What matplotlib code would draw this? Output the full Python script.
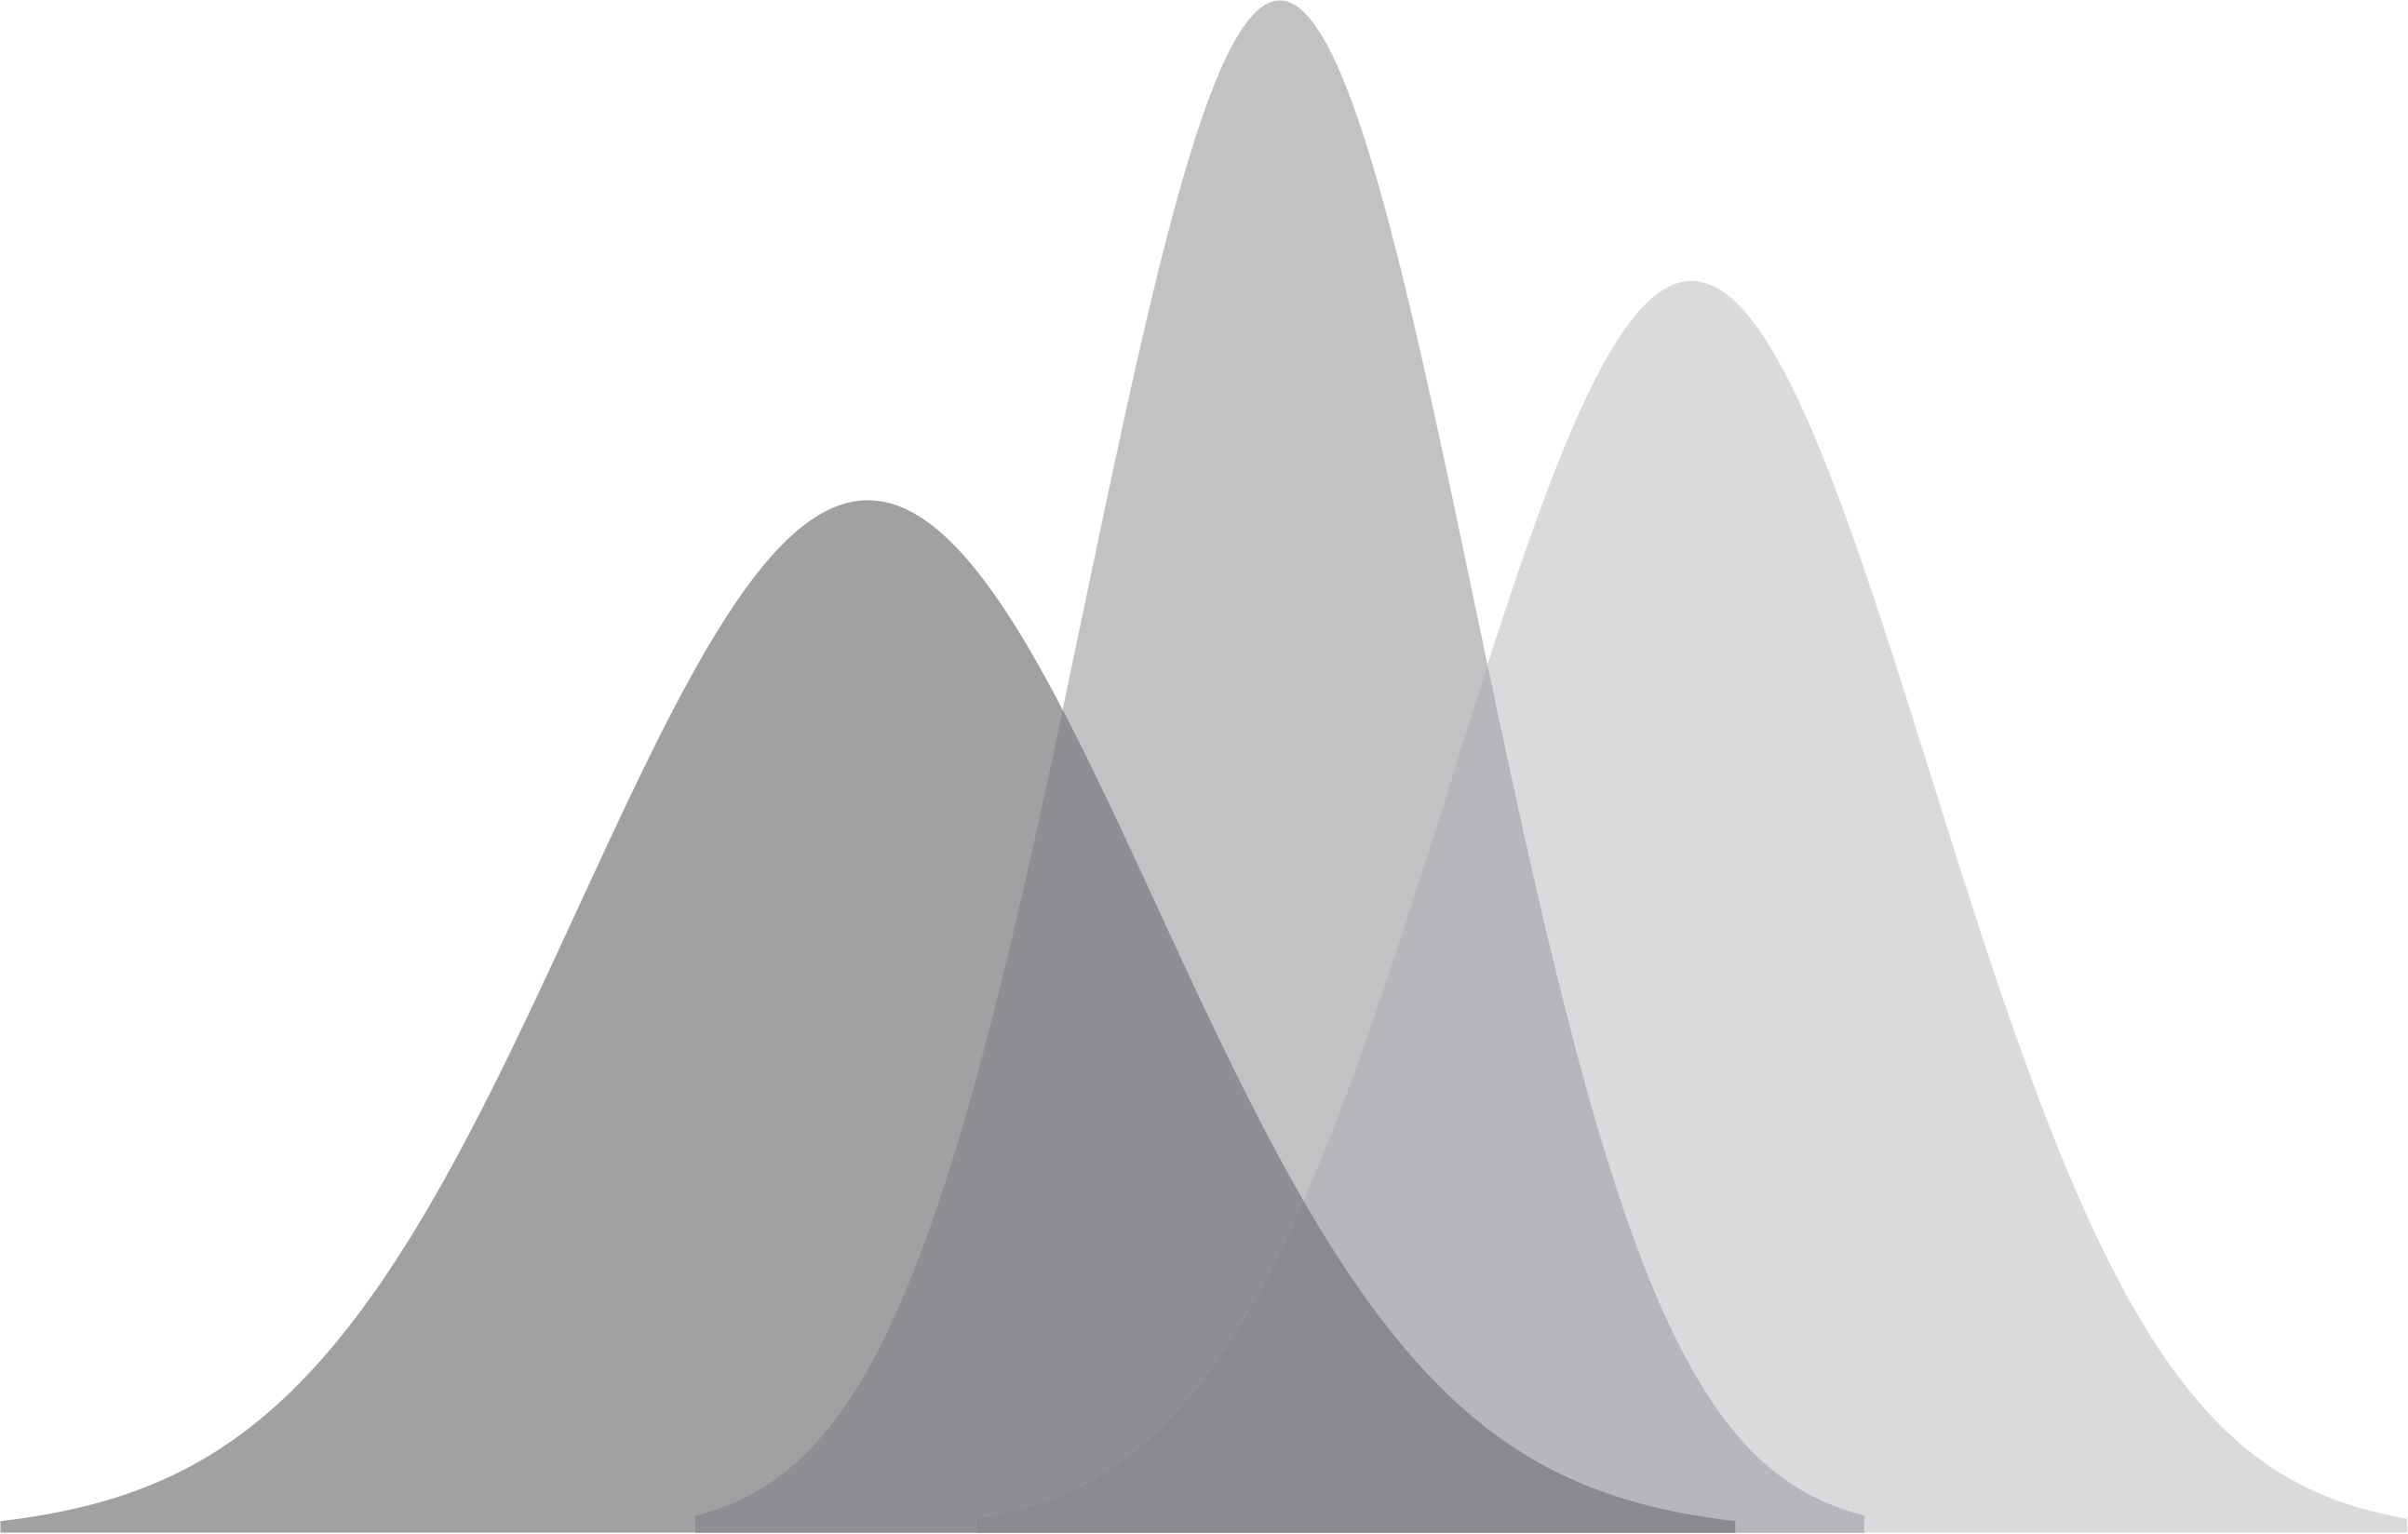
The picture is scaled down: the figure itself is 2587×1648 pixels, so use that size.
import numpy as np
import matplotlib
matplotlib.use("Agg")
import matplotlib.pyplot as plt

# three normal curves, equal area, cut at +/- 3 sd
names = ["A", "B", "C"]
means = [-1.0, 0.0, 1.0]
sds = [0.702, 0.473, 0.579]
cut = 3.0

colors = {"A": "#a0a1a3", "B": "#c1c2c4", "C": "#d9dadc",
          "AB": "#8e8f92", "BC": "#b6b7ba", "ABC": "#8a8b8f"}


def pdf(x, m, s):
    return np.exp(-0.5 * ((x - m) / s) ** 2) / (s * np.sqrt(2 * np.pi))


lo = [m - cut * s for m, s in zip(means, sds)]
hi = [m + cut * s for m, s in zip(means, sds)]
x = np.union1d(np.linspace(min(lo), max(hi), 6000), lo + hi)

ys, masks = {}, {}
for n, m, s, a, b in zip(names, means, sds, lo, hi):
    masks[n] = (x >= a - 1e-9) & (x <= b + 1e-9)
    ys[n] = np.where(masks[n], pdf(x, m, s), 0.0)

fig = plt.figure(figsize=(25.87, 16.48), dpi=100)
ax = fig.add_axes([0, 2 / 1648, 1, 1646 / 1648])

for n in names:
    ax.fill_between(x, 0, ys[n], where=masks[n], color=colors[n], lw=0)

for combo in ["AB", "BC", "ABC"]:
    keys = list(combo)
    both = np.logical_and.reduce([masks[k] for k in keys])
    top = np.minimum.reduce([ys[k] for k in keys])
    ax.fill_between(x, 0, top, where=both, color=colors[combo], lw=0)

px = 2587 / (2 * 442.5)  # half-width in data units
ax.set_xlim(lo[0], lo[0] + 2587 / 442.5)
ax.set_ylim(0, pdf(means[1], means[1], sds[1]))
ax.axis("off")

fig.savefig("out.png", dpi=100, facecolor="white")
